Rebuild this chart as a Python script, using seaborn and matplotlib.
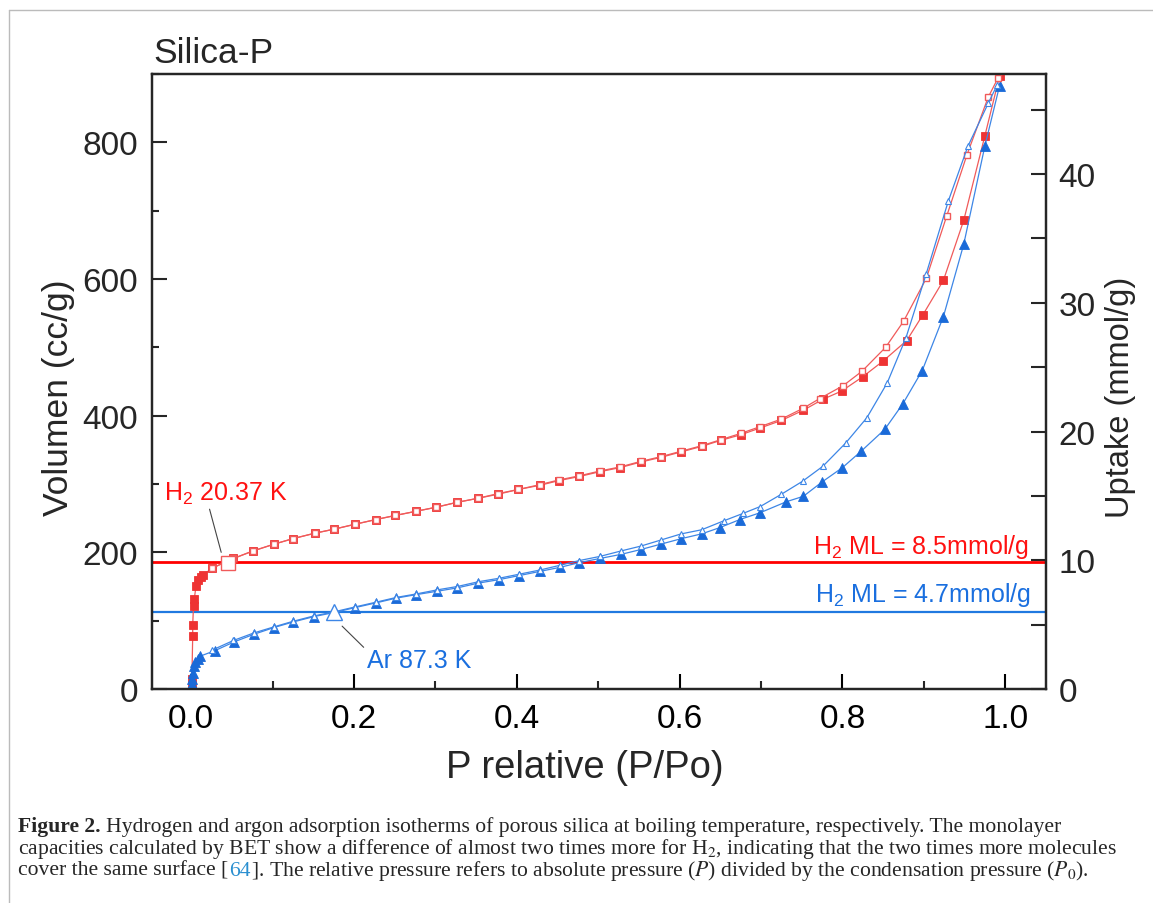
import matplotlib
matplotlib.use("Agg")
import matplotlib.pyplot as plt
import seaborn as sns
from matplotlib.ticker import MultipleLocator
from matplotlib.lines import Line2D

# ---------------- data ----------------
h2_ads_x = [0.001, 0.001, 0.002, 0.002, 0.003, 0.004, 0.006, 0.009, 0.012, 0.015,
            0.026, 0.052, 0.076, 0.102, 0.125, 0.152, 0.176, 0.201, 0.227, 0.251,
            0.276, 0.301, 0.326, 0.352, 0.377, 0.402, 0.428, 0.452, 0.477, 0.502,
            0.527, 0.552, 0.577, 0.602, 0.627, 0.651, 0.675, 0.699, 0.725, 0.752,
            0.776, 0.799, 0.825, 0.850, 0.879, 0.899, 0.924, 0.949, 0.975, 0.993]
h2_ads_y = [5, 15, 78, 94, 122, 132, 151, 159, 164, 167,
            177, 191, 202, 212, 220, 228, 234, 241, 248, 254,
            260, 266, 273, 279, 285, 292, 298, 305, 311, 318,
            324, 332, 339, 347, 355, 364, 372, 382, 393, 408,
            424, 436, 457, 480, 510, 548, 598, 686, 810, 897]

h2_des_x = [0.026, 0.052, 0.076, 0.102, 0.125, 0.152, 0.176, 0.201, 0.227, 0.251,
            0.276, 0.301, 0.326, 0.352, 0.377, 0.402, 0.428, 0.452, 0.477, 0.502,
            0.527, 0.552, 0.577, 0.602, 0.627, 0.651, 0.675, 0.699, 0.725, 0.752,
            0.772, 0.801, 0.824, 0.853, 0.875, 0.903, 0.928, 0.953, 0.979, 0.991]
h2_des_y = [177, 191, 202, 212, 220, 228, 234, 241, 248, 254,
            260, 266, 273, 279, 286, 292, 299, 306, 312, 319,
            325, 333, 340, 348, 356, 365, 374, 384, 395, 411,
            425, 444, 465, 500, 538, 601, 692, 782, 866, 894]

ar_ads_x = [0.001, 0.001, 0.001, 0.002, 0.003, 0.005, 0.008, 0.011,
            0.029, 0.053, 0.077, 0.102, 0.125, 0.151, 0.176, 0.201, 0.227, 0.252,
            0.276, 0.302, 0.327, 0.353, 0.378, 0.403, 0.428, 0.453, 0.477, 0.502,
            0.528, 0.552, 0.577, 0.602, 0.627, 0.649, 0.674, 0.699, 0.731, 0.752,
            0.775, 0.800, 0.823, 0.852, 0.874, 0.898, 0.924, 0.949, 0.975, 0.993]
ar_ads_y = [3, 8, 14, 24, 34, 39, 44, 48,
            56, 69, 80, 90, 98, 106, 112, 119, 126, 133,
            138, 143, 148, 155, 160, 166, 172, 178, 185, 191,
            197, 204, 212, 220, 227, 236, 248, 258, 274, 282,
            303, 324, 348, 380, 417, 466, 545, 651, 795, 883]

ar_des_x = [0.026, 0.052, 0.077, 0.102, 0.125, 0.151, 0.176, 0.201, 0.227, 0.252,
            0.276, 0.302, 0.327, 0.353, 0.378, 0.403, 0.428, 0.453, 0.477, 0.502,
            0.528, 0.552, 0.577, 0.602, 0.627, 0.654, 0.678, 0.699, 0.725, 0.751,
            0.776, 0.804, 0.830, 0.855, 0.878, 0.903, 0.930, 0.954, 0.979, 0.990]
ar_des_y = [57, 71, 82, 91, 99, 107, 113, 120, 127, 134,
            139, 145, 150, 157, 162, 168, 174, 181, 188, 194,
            202, 209, 218, 227, 233, 246, 257, 267, 285, 304,
            326, 360, 397, 448, 514, 608, 714, 794, 857, 884]

# monolayer levels (cc/g on left axis) and highlighted points
h2_ml_level = 186
ar_ml_level = 113
h2_mark = (0.045, 184)
ar_mark = (0.175, 112)

x_ticks = [0.0, 0.2, 0.4, 0.6, 0.8, 1.0]
y_ticks = [0, 200, 400, 600, 800]
y2_ticks = [0, 10, 20, 30, 40]

# ---------------- style ----------------
sns.set_theme(style="ticks")
plt.rcParams["font.family"] = ["Liberation Sans", "DejaVu Sans"]
plt.rcParams["mathtext.fontset"] = "custom"
plt.rcParams["mathtext.rm"] = "Liberation Sans"
plt.rcParams["mathtext.it"] = "Liberation Sans:italic"
plt.rcParams["mathtext.bf"] = "Liberation Sans:bold"

RED = "#ee3333"
RED_LINE = "#f05a5a"
RED_TXT = "#ff1111"
BLUE = "#1a6ad8"
BLUE_LINE = "#3d86e6"
BLUE_TXT = "#1a6fdf"

W, H = 1153, 904
fig = plt.figure(figsize=(W / 100, H / 100), dpi=100)
fig.patch.set_facecolor("white")

# thin gray page frame
fig.add_artist(Line2D([9 / W, 1.0], [1 - 11 / H, 1 - 11 / H], color="#bbbbbb", lw=1.0))
fig.add_artist(Line2D([9 / W, 9 / W], [1 - 11 / H, 0.0], color="#bbbbbb", lw=1.0))

ax = fig.add_axes([152 / W, 1 - 690 / H, (1046 - 152) / W, (690 - 75) / H])

# adsorption (filled) then desorption (open) branches
sns.lineplot(x=h2_ads_x, y=h2_ads_y, ax=ax, estimator=None, sort=False,
             color=RED_LINE, lw=0.9, marker="s", markersize=5.4,
             markerfacecolor=RED, markeredgecolor=RED, markeredgewidth=0.6, zorder=3)
sns.lineplot(x=ar_ads_x, y=ar_ads_y, ax=ax, estimator=None, sort=False,
             color=BLUE_LINE, lw=0.9, marker="^", markersize=6.5,
             markerfacecolor=BLUE, markeredgecolor=BLUE, markeredgewidth=0.6, zorder=3)
sns.lineplot(x=h2_des_x, y=h2_des_y, ax=ax, estimator=None, sort=False,
             color=RED_LINE, lw=0.9, marker="s", markersize=3.8,
             markerfacecolor="white", markeredgecolor=RED_LINE, markeredgewidth=1.0, zorder=4)
sns.lineplot(x=ar_des_x, y=ar_des_y, ax=ax, estimator=None, sort=False,
             color=BLUE_LINE, lw=0.9, marker="^", markersize=4.4,
             markerfacecolor="white", markeredgecolor=BLUE_LINE, markeredgewidth=0.8, zorder=4)

# monolayer lines
ax.axhline(h2_ml_level, color="#ff0000", lw=2.0, zorder=2)
ax.axhline(ar_ml_level, color="#2079e0", lw=1.6, zorder=2)

# highlighted points
ax.plot([h2_mark[0]], [h2_mark[1]], marker="s", markersize=10, mfc="white",
        mec=RED_LINE, mew=1.0, ls="none", zorder=5)
ax.plot([ar_mark[0]], [ar_mark[1]], marker="^", markersize=11, mfc="white",
        mec=BLUE_LINE, mew=1.0, ls="none", zorder=5)

# labels with leader lines
ax.annotate("H$_2$ 20.37 K", xy=(0.037, 200), xytext=(-0.033, 277),
            color=RED_TXT, fontsize=18, va="baseline", ha="left",
            arrowprops=dict(arrowstyle="-", color="#444444", lw=0.8,
                            shrinkA=0, shrinkB=0, relpos=(0.36, 0.0)))
ax.annotate("Ar 87.3 K", xy=(0.1855, 92), xytext=(0.216, 32),
            color=BLUE_TXT, fontsize=18, va="baseline", ha="left",
            arrowprops=dict(arrowstyle="-", color="#444444", lw=0.8,
                            shrinkA=0, shrinkB=0, relpos=(0.0, 0.9)))
ax.text(1.0295, 199, "H$_2$ ML = 8.5mmol/g", color=RED_TXT, fontsize=18,
        ha="right", va="baseline")
ax.text(1.032, 129, "H$_2$ ML = 4.7mmol/g", color=BLUE_TXT, fontsize=18,
        ha="right", va="baseline")

# axes limits / ticks
ax.set_xlim(-0.048, 1.05)
ax.set_ylim(0, 900)
ax.set_xticks(x_ticks)
ax.set_xticklabels([f"{v:.1f}" for v in x_ticks])
ax.xaxis.set_minor_locator(MultipleLocator(0.1))
ax.set_yticks(y_ticks)
ax.set_yticklabels([str(v) for v in y_ticks])
ax.yaxis.set_minor_locator(MultipleLocator(100))
ax.tick_params(axis="x", which="major", direction="in", length=11, width=1.5,
               labelsize=24, pad=10, top=False, bottom=True, colors="black")
ax.tick_params(axis="x", which="minor", direction="in", length=6, width=1.5,
               top=False, bottom=True)
ax.tick_params(axis="y", which="major", direction="in", length=11, width=1.5,
               labelsize=24, pad=10, left=True, right=False)
ax.tick_params(axis="y", which="minor", direction="in", length=5, width=1.5,
               left=True, right=False)
for s in ax.spines.values():
    s.set_linewidth(1.6)
    s.set_color("black")

ax.set_xlabel("P relative (P/Po)", fontsize=27.5)
ax.xaxis.set_label_coords(0.484, -0.097)
ax.set_ylabel("Volumen (cc/g)", fontsize=25.5)
ax.yaxis.set_label_coords(-0.086, 0.475)

ax2 = ax.twinx()
ax2.set_ylim(0, 47.77)
ax2.set_yticks(y2_ticks)
ax2.set_yticklabels([str(v) for v in y2_ticks])
ax2.yaxis.set_minor_locator(MultipleLocator(5))
ax2.tick_params(axis="y", which="both", direction="in", length=11, width=1.5,
                labelsize=24, pad=9, right=True, left=False)
for s in ax2.spines.values():
    s.set_linewidth(1.6)
ax2.set_ylabel("Uptake (mmol/g)", fontsize=23.5, rotation=90)
ax2.yaxis.set_label_coords(1.066, 0.475)
ax2.yaxis.label.set_va("top")

# title
fig.text(153 / W, 1 - 63 / H, "Silica-P", fontsize=25.5, va="baseline", ha="left")

# ---------------- caption ----------------
renderer = fig.canvas.get_renderer()
CAP_FS = 15.6
cap_kw = dict(fontsize=CAP_FS, family="Liberation Serif", va="baseline",
              ha="left", math_fontfamily="stix")


def put_line(pieces, x_px, base_px):
    x = x_px
    for txt, extra, gap in pieces:
        x += gap
        kw = dict(cap_kw)
        kw.update(extra)
        t = fig.text(x / W, 1 - base_px / H, txt, **kw)
        x += t.get_window_extent(renderer=renderer).width


put_line([("Figure 2.", {"weight": "bold"}, 0),
          ("Hydrogen and argon adsorption isotherms of porous silica at boiling "
           "temperature, respectively. The monolayer", {}, 5)], 18, 832)
put_line([("capacities calculated by BET show a difference of almost two times more "
           "for H$_2$, indicating that the two times more molecules", {}, 0)], 18, 854)
put_line([("cover the same surface [", {}, 0),
          ("64", {"color": "#2a8fd0"}, 0.5),
          ("]. The relative pressure refers to absolute pressure ($P$) divided by "
           "the condensation pressure ($P_0$).", {}, 0.5)], 18, 876)

fig.savefig("out.png", dpi=100, facecolor="white")
